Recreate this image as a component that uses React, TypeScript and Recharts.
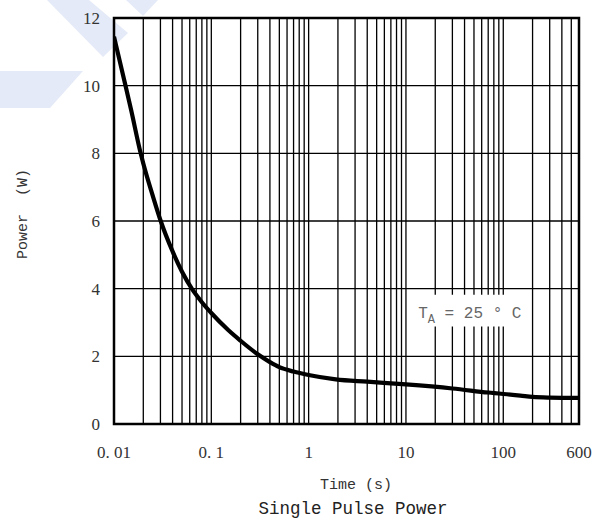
import React from "react";
import {
  LineChart,
  Line,
  XAxis,
  YAxis,
  CartesianGrid,
  ReferenceArea
} from "recharts";

// Single pulse power curve
const timeS = [
  0.01, 0.0126, 0.015, 0.0188, 0.02, 0.025, 0.0302, 0.04, 0.05, 0.063, 0.08,
  0.1, 0.15, 0.2, 0.3, 0.4, 0.5, 0.7, 1, 1.9, 4, 10, 30, 70, 150, 200, 300, 600
];
const powerW = [
  11.45, 10.22, 9.28, 8.0, 7.7, 6.75, 6.0, 5.1, 4.5, 4.0, 3.6,
  3.28, 2.77, 2.46, 2.06, 1.83, 1.68, 1.55, 1.45, 1.32, 1.25, 1.17, 1.05, 0.93, 0.84, 0.8, 0.78, 0.77
];

// log grid: every minor line, majors get a label
const xGridTicks = [
  0.01, 0.02, 0.03, 0.04, 0.05, 0.06, 0.07, 0.08, 0.09,
  0.1, 0.2, 0.3, 0.4, 0.5, 0.6, 0.7, 0.8, 0.9,
  1, 2, 3, 4, 5, 6, 7, 8, 9,
  10, 20, 30, 40, 50, 60, 70, 80, 90,
  100, 200, 300, 400, 500, 600
];
const xTickLabels: Record<string, string> = {
  "0.01": "0. 01",
  "0.1": "0. 1",
  "1": "1",
  "10": "10",
  "100": "100",
  "600": "600"
};
const yTicks = [0, 2, 4, 6, 8, 10, 12];

const chartData = timeS.map((t, i) => ({ t, p: powerW[i] }));

const tickStyle = { fontFamily: "'Liberation Serif', serif", fontSize: 17, fill: "#333" };
const monoFont = "'Liberation Mono', monospace";

function TaLabel(props: any) {
  const vb = props.viewBox || {};
  return (
    <text
      x={vb.x + 1.5}
      y={vb.y + 23}
      fontFamily={monoFont}
      fontSize={16}
      fill="#666"
      style={{ whiteSpace: "pre" }}
    >
      <tspan>T</tspan>
      <tspan fontSize={12} dy={5}>A</tspan>
      <tspan dy={-5}>{" = 25 ° C"}</tspan>
    </text>
  );
}

export default function App() {
  return (
    <div style={{ position: "absolute", left: 0, top: 0, width: 603, height: 523, background: "#fff" }}>
      {/* faint blue watermark shapes + titles */}
      <svg width={603} height={523} style={{ position: "absolute", left: 0, top: 0 }}>
        <polygon points="47,0 89,0 128,33 103,57" fill="#e4eaf7" />
        <polygon points="126,0 158,0 143,16" fill="#e4eaf7" />
        <polygon points="0,71 83,71 50,108 0,108" fill="#e4eaf7" />
        <text x={356} y={489} textAnchor="middle" fontFamily={monoFont} fontSize={15} fill="#333" style={{ whiteSpace: "pre" }}>
          Time (s)
        </text>
        <text x={353} y={514} textAnchor="middle" fontFamily={monoFont} fontSize={17.5} fill="#222" style={{ whiteSpace: "pre" }}>
          Single Pulse Power
        </text>
        <text
          x={27}
          y={259}
          transform="rotate(-90 27 259)"
          fontFamily={monoFont}
          fontSize={15}
          fill="#333"
          style={{ whiteSpace: "pre" }}
        >
          {"Power  (W)"}
        </text>
      </svg>
      <div style={{ position: "absolute", left: 0, top: 0 }}>
        <LineChart width={603} height={523} data={chartData} margin={{ top: 18, right: 24, bottom: 69, left: 54 }}>
          <CartesianGrid stroke="#000" strokeWidth={1.3} />
          <XAxis
            dataKey="t"
            type="number"
            scale="log"
            domain={[0.01, 600]}
            allowDataOverflow
            ticks={xGridTicks}
            interval={0}
            tickFormatter={(v) => xTickLabels[String(v)] ?? ""}
            tick={{ ...tickStyle, style: { whiteSpace: "pre" } }}
            tickLine={false}
            axisLine={false}
            tickSize={0}
            tickMargin={22}
            height={30}
          />
          <YAxis
            type="number"
            domain={[0, 12]}
            ticks={yTicks}
            interval={0}
            tick={tickStyle}
            tickLine={false}
            axisLine={false}
            tickSize={0}
            tickMargin={14}
            width={60}
          />
          <ReferenceArea x1={12.9} x2={161} y1={2.88} y2={3.82} fill="#fff" fillOpacity={1} stroke="none" label={<TaLabel />} />
          <ReferenceArea x1={0.01} x2={600} y1={0} y2={12} fill="none" stroke="#000" strokeWidth={2.5} />
          <Line
            type="monotone"
            dataKey="p"
            stroke="#000"
            strokeWidth={4.2}
            dot={false}
            isAnimationActive={false}
          />
        </LineChart>
      </div>
    </div>
  );
}
